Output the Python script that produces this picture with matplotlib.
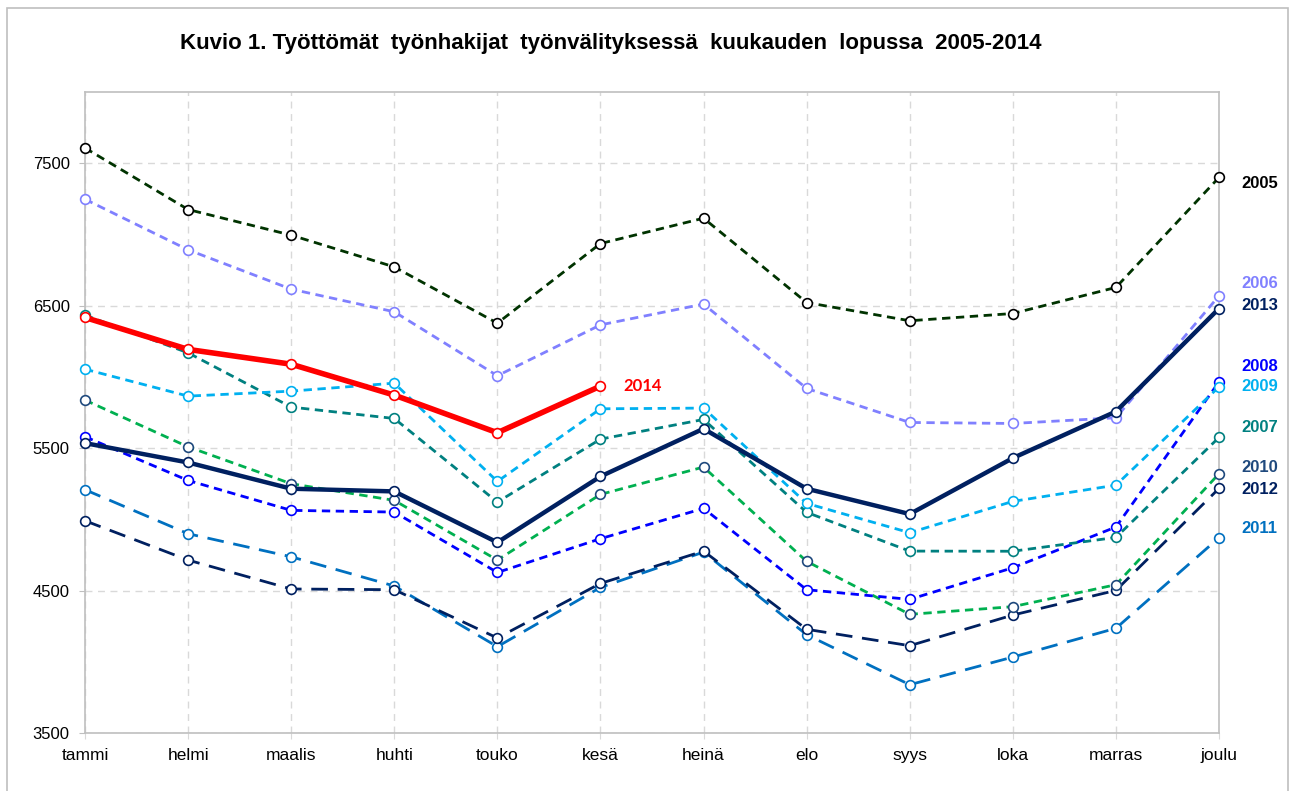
import matplotlib
matplotlib.use("Agg")
import matplotlib.pyplot as plt
from matplotlib.patches import Rectangle

plt.rcParams['font.family'] = ['Liberation Sans', 'DejaVu Sans']

months = ["tammi", "helmi", "maalis", "huhti", "touko", "kesä",
          "heinä", "elo", "syys", "loka", "marras", "joulu"]

y2005 = [7607, 7175, 6995, 6772, 6377, 6936, 7114, 6522, 6394, 6445, 6628, 7400]
y2006 = [7247, 6892, 6616, 6457, 6008, 6365, 6511, 5919, 5680, 5673, 5713, 6569]
y2007 = [6433, 6169, 5788, 5708, 5121, 5563, 5701, 5049, 4777, 4776, 4873, 5575]
y2008 = [5580, 5273, 5063, 5051, 4627, 4864, 5077, 4506, 4438, 4660, 4946, 5965]
y2009 = [6054, 5865, 5900, 5956, 5266, 5776, 5781, 5112, 4906, 5126, 5240, 5930]
y2010 = [5837, 5509, 5250, 5133, 4714, 5175, 5367, 4705, 4333, 4387, 4541, 5320]
y2011 = [5208, 4899, 4737, 4532, 4106, 4522, 4770, 4190, 3839, 4033, 4235, 4871]
y2012 = [4990, 4714, 4511, 4506, 4167, 4550, 4777, 4228, 4113, 4328, 4501, 5217]
y2013 = [5535, 5399, 5215, 5196, 4838, 5301, 5636, 5215, 5037, 5430, 5757, 6480]
y2014 = [6417, 6193, 6089, 5872, 5608, 5935]

# (year, values, line colour, marker edge colour, label colour, width, dashes)
series = [
    ("2011", y2011, "#0070C0", "#0070C0", "#0070C0", 2.0, (6, 3.5)),
    ("2012", y2012, "#002060", "#002060", "#002060", 2.0, (6, 3.5)),
    ("2010", y2010, "#00B050", "#1F497D", "#1F497D", 2.0, (3, 2)),
    ("2008", y2008, "#0000FF", "#0000FF", "#0000FF", 2.0, (3, 2)),
    ("2007", y2007, "#008080", "#008080", "#008080", 2.0, (3, 2)),
    ("2009", y2009, "#00B0F0", "#00B0F0", "#00B0F0", 2.0, (3, 2)),
    ("2006", y2006, "#8080FF", "#8080FF", "#8080FF", 2.0, (3, 2)),
    ("2005", y2005, "#003300", "#000000", "#000000", 2.0, (3, 2)),
    ("2013", y2013, "#002060", "#002060", "#002060", 3.2, None),
    ("2014", y2014, "#FF0000", "#FF0000", "#FF0000", 4.0, None),
]

# label y positions (layout only)
label_y = {"2005": 7360, "2006": 6658, "2013": 6504, "2008": 6075, "2009": 5935,
           "2007": 5647, "2010": 5367, "2012": 5212, "2011": 4939}

fig = plt.figure(figsize=(12.9, 7.91), dpi=100)
fig.patches.append(Rectangle((7 / 1290, -0.01), 1281 / 1290, 1.0, transform=fig.transFigure,
                             fill=False, edgecolor="#BFBFBF", linewidth=1.2))
ax = fig.add_axes([85 / 1290, 1 - 733 / 791, 1134 / 1290, 641 / 791])

x = list(range(12))
for year, vals, lc, mc, tc, lw, dashes in series:
    xs = x[:len(vals)]
    line, = ax.plot(xs, vals, color=lc, linewidth=lw, marker="o", markersize=7,
                    markerfacecolor="white", markeredgecolor=mc, markeredgewidth=1.2,
                    linestyle="--" if dashes else "-", zorder=3, clip_on=False)
    if dashes:
        line.set_dashes(dashes)
    if year == "2014":
        ax.text(len(vals) - 1 + 0.22, vals[-1], year, color=tc, fontsize=12,
                fontweight="bold", va="center", ha="left", family=["Lato", "DejaVu Sans"])
    else:
        ax.text(11.22, label_y[year], year, color=tc, fontsize=12,
                fontweight="bold", va="center", ha="left", clip_on=False)

ax.set_xlim(0, 11)
ax.set_ylim(3500, 8000)
ax.set_xticks(x)
ax.set_xticklabels(months, fontsize=12.5)
ax.set_yticks([3500, 4500, 5500, 6500, 7500])
ax.tick_params(axis="y", labelsize=12, length=4, color="#BFBFBF", pad=7)
ax.tick_params(axis="x", length=4, color="#D9D9D9", pad=7, direction="out")

ax.grid(True, color="#D9D9D9", linestyle=(0, (5, 4)), linewidth=1)
ax.set_axisbelow(True)
for s in ax.spines.values():
    s.set_color("#BFBFBF")
    s.set_linewidth(1.2)

fig.text(611 / 1290, 1 - 43 / 791,
         "Kuvio 1. Työttömät  työnhakijat  työnvälityksessä  kuukauden  lopussa  2005-2014",
         ha="center", va="center", fontsize=16, fontweight="bold")

fig.savefig("out.png", dpi=100)
